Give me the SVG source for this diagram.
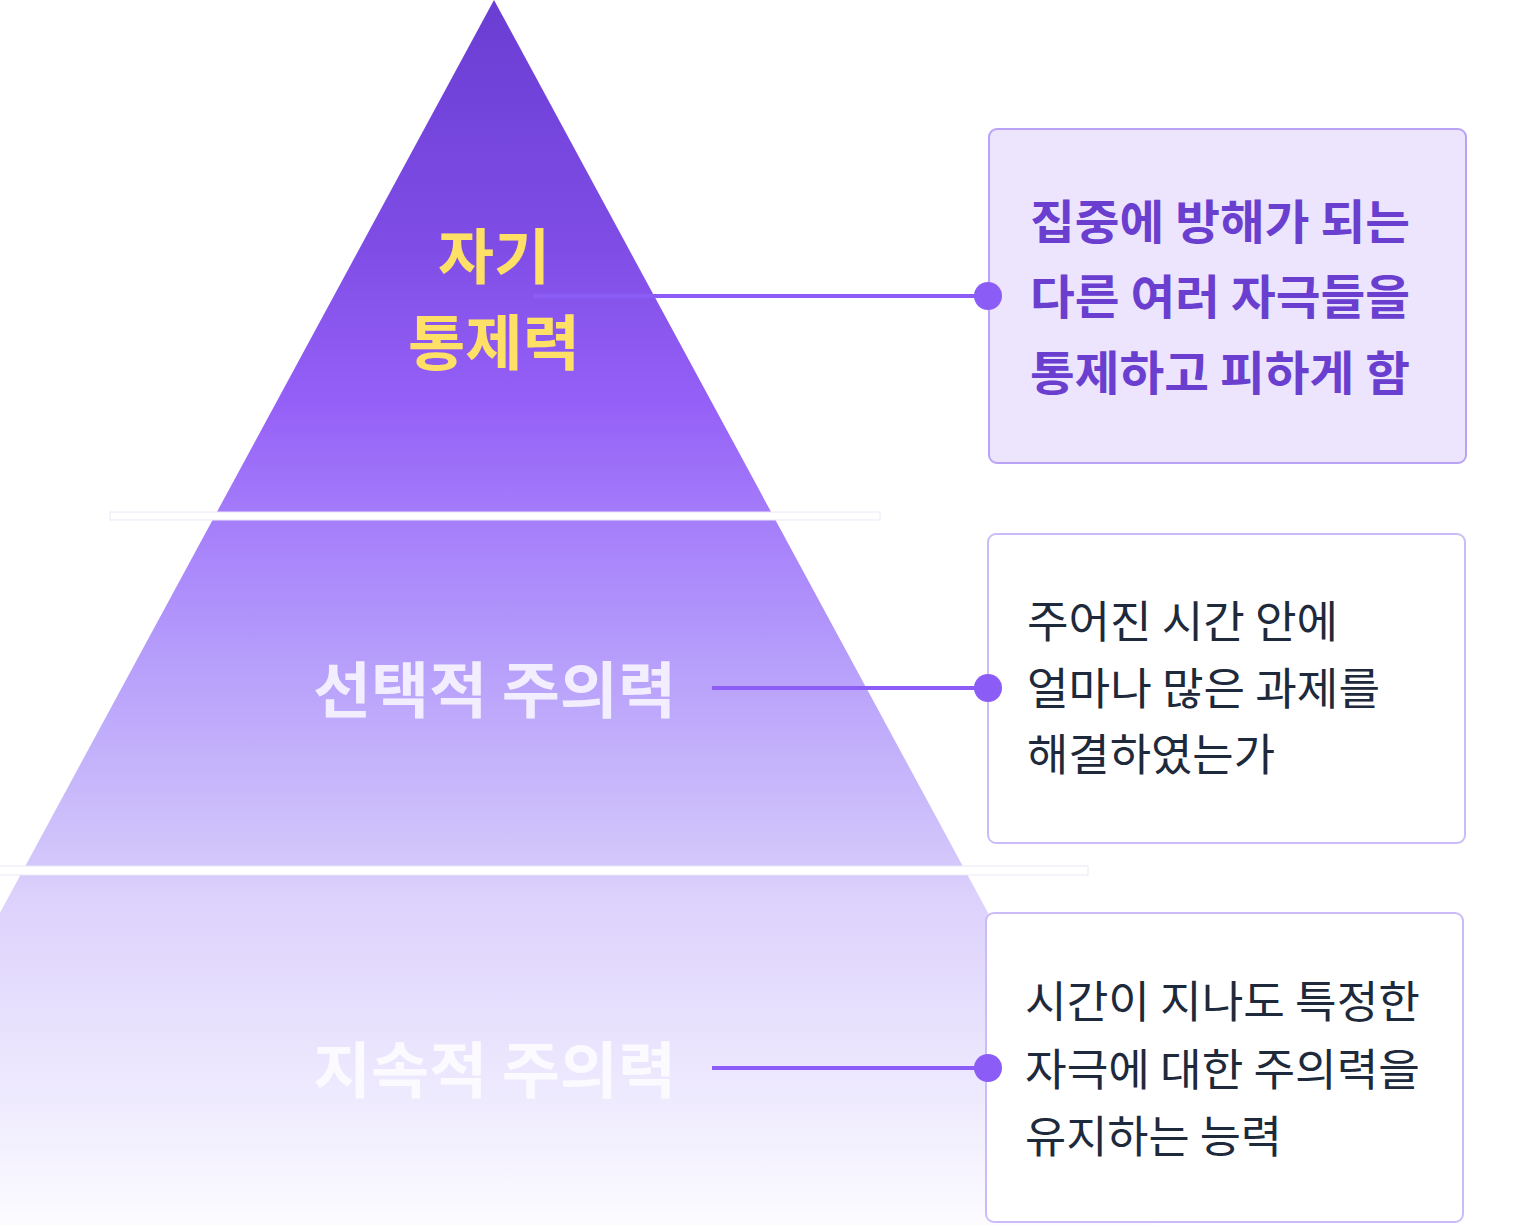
<svg xmlns="http://www.w3.org/2000/svg" width="1536" height="1225" viewBox="0 0 1536 1225">
  <defs>
    <linearGradient id="pyr" gradientUnits="userSpaceOnUse" x1="0" y1="0" x2="0" y2="1225">
      <stop offset="0" stop-color="#6a3dd3"/>
      <stop offset="0.2" stop-color="#7f4de6"/>
      <stop offset="0.33" stop-color="#9560f7"/>
      <stop offset="0.42" stop-color="#a47cfa"/>
      <stop offset="0.55" stop-color="#b8a1fb"/>
      <stop offset="0.7" stop-color="#d2c6fb"/>
      <stop offset="0.73" stop-color="#dcd1fc"/>
      <stop offset="0.9" stop-color="#efebfe"/>
      <stop offset="1" stop-color="#fcfbff"/>
    </linearGradient>
  </defs>
  <style>
    .lbl { font-family: "Noto Sans CJK KR", "Noto Sans", sans-serif; font-weight: 700; }
    .box { stroke-width: 2; }
    .bt { font-family: "Noto Sans CJK KR", "Noto Sans", sans-serif; font-size: 44px; fill: #1e2a3b; }
    .bt1 { font-family: "Noto Sans CJK KR", "Noto Sans", sans-serif; font-size: 47px; font-weight: 700; fill: #6a3fcf; }
    .conn { stroke: #8b5cf6; stroke-width: 4; fill: none; }
    .dot { fill: #8b5cf6; }
    .strip { fill: #ffffff; stroke: #ebe8f5; stroke-width: 1; }
  </style>
  <rect width="1536" height="1225" fill="#ffffff"/>
  <g id="pyramid">
    <polygon points="494,0 1157,1225 -169,1225" fill="url(#pyr)"/>
    <rect class="strip" x="110" y="512" width="770" height="8"/>
    <rect class="strip" x="-2" y="866" width="1090" height="9"/>
  </g>
  <g id="layer-top">
    <text class="lbl" x="438" y="279" font-size="60" fill="#ffe066" textLength="112" lengthAdjust="spacingAndGlyphs">자기</text>
    <text class="lbl" x="408" y="365" font-size="60" fill="#ffe066" textLength="172" lengthAdjust="spacingAndGlyphs">통제력</text>
  </g>
  <g id="layer-middle">
    <text class="lbl" x="313" y="713" font-size="61" fill="#f3eeff" textLength="363" lengthAdjust="spacingAndGlyphs">선택적 주의력</text>
  </g>
  <g id="layer-bottom">
    <text class="lbl" x="313" y="1093" font-size="61" fill="#fbfaff" textLength="363" lengthAdjust="spacingAndGlyphs">지속적 주의력</text>
  </g>
  <g id="box-top">
    <rect class="box" x="989" y="129" width="477" height="334" rx="8" fill="#ede5fe" stroke="#b9a3f7"/>
    <text class="bt1" x="1030" y="239" textLength="380" lengthAdjust="spacingAndGlyphs">집중에 방해가 되는</text>
    <text class="bt1" x="1030" y="314" textLength="380" lengthAdjust="spacingAndGlyphs">다른 여러 자극들을</text>
    <text class="bt1" x="1030" y="390" textLength="380" lengthAdjust="spacingAndGlyphs">통제하고 피하게 함</text>
  </g>
  <g id="box-middle">
    <rect class="box" x="988" y="534" width="477" height="309" rx="8" fill="#ffffff" stroke="#cbbcf8"/>
    <text class="bt" x="1027" y="638" textLength="311" lengthAdjust="spacingAndGlyphs">주어진 시간 안에</text>
    <text class="bt" x="1027" y="705" textLength="353" lengthAdjust="spacingAndGlyphs">얼마나 많은 과제를</text>
    <text class="bt" x="1027" y="771" textLength="248" lengthAdjust="spacingAndGlyphs">해결하였는가</text>
  </g>
  <g id="box-bottom">
    <rect class="box" x="986" y="913" width="477" height="309" rx="8" fill="#ffffff" stroke="#cbbcf8"/>
    <text class="bt" x="1025" y="1018" textLength="395" lengthAdjust="spacingAndGlyphs">시간이 지나도 특정한</text>
    <text class="bt" x="1025" y="1086" textLength="395" lengthAdjust="spacingAndGlyphs">자극에 대한 주의력을</text>
    <text class="bt" x="1025" y="1153" textLength="257" lengthAdjust="spacingAndGlyphs">유지하는 능력</text>
  </g>
  <g id="connectors">
    <line class="conn" x1="533" y1="296" x2="988" y2="296"/>
    <circle class="dot" cx="988" cy="296" r="14"/>
    <line class="conn" x1="712" y1="688" x2="988" y2="688"/>
    <circle class="dot" cx="988" cy="688" r="14"/>
    <line class="conn" x1="712" y1="1068" x2="988" y2="1068"/>
    <circle class="dot" cx="988" cy="1068" r="14"/>
  </g>
</svg>
